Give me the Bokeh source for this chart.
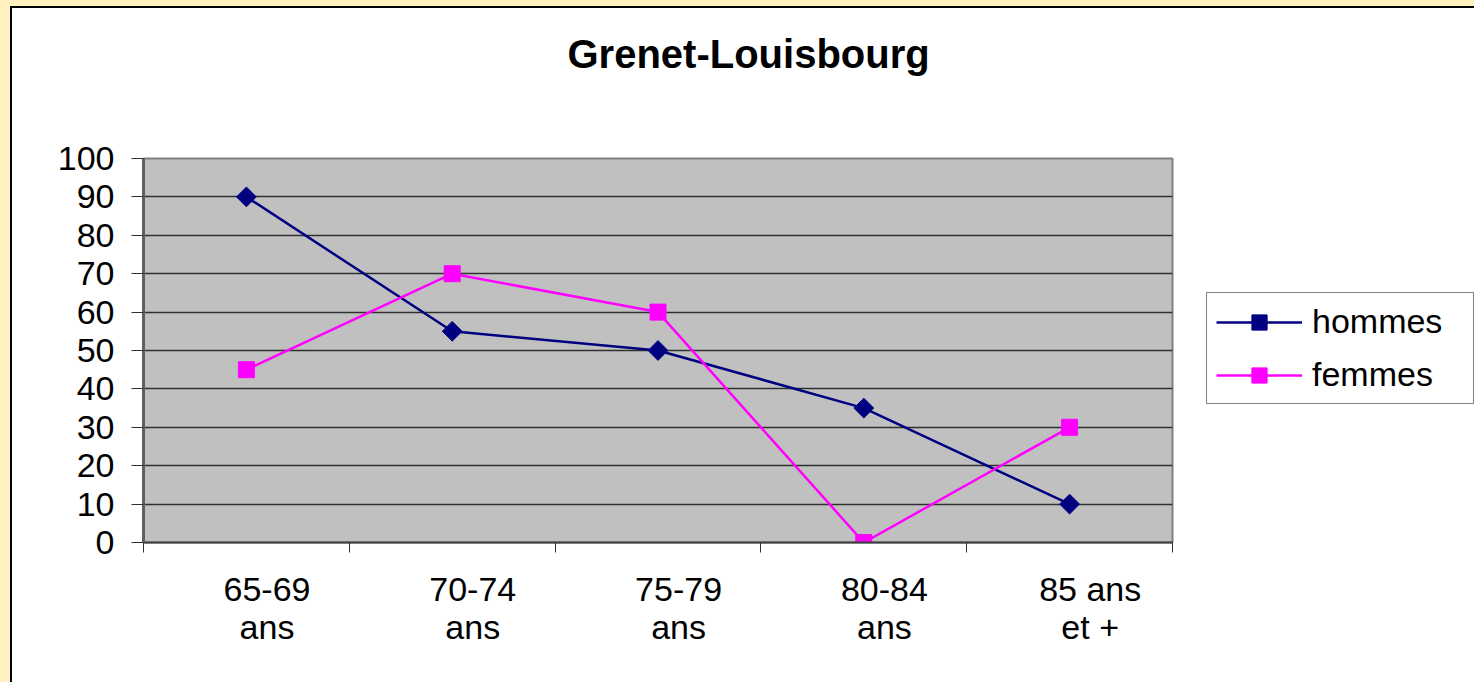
import numpy as np
from bokeh.plotting import figure
from bokeh.layouts import column
from bokeh.models import (Range1d, LinearAxis, FixedTicker, Legend, LegendItem, Title)
from bokeh.embed import file_html
from bokeh.resources import INLINE

# ---- data ----
categories = ["65-69\nans", "70-74\nans", "75-79\nans", "80-84\nans", "85 ans\net +"]
hommes = [90, 55, 50, 35, 10]
femmes = [45, 70, 60, 0, 30]
y_ticks = list(range(0, 101, 10))
chart_title = "Grenet-Louisbourg"

n = len(categories)
xs = [i + 0.5 for i in range(n)]

FONT = "Liberation Sans"
FS = "34px"

p = figure(width=1462, height=674, output_backend="svg", toolbar_location=None,
           x_range=Range1d(0, n), y_range=Range1d(0, 100),
           x_axis_location=None, y_axis_location=None,
           min_border_left=131, min_border_top=150, min_border_right=304,
           min_border_bottom=142, frame_width=1027, frame_height=382)

p.background_fill_color = "#C0C0C0"
p.border_fill_color = "white"
p.outline_line_color = "#808080"
p.outline_line_width = 2
p.styles = {"border-left": "2px solid black", "border-top": "2px solid black"}

# blank spacer title between the chart title and the plot area
spacer = Title(text=" ", text_font=FONT, text_font_size="10px", standoff=65)
p.add_layout(spacer, "above")

# chart title (outside the spacer)
title = Title(text=chart_title, text_font=FONT, text_font_size="40px",
              text_font_style="bold", text_color="black",
              align="left", offset=424, standoff=10)
p.add_layout(title, "above")

# y axis
yaxis = LinearAxis(ticker=FixedTicker(ticks=y_ticks))
yaxis.axis_line_color = "#606060"
yaxis.axis_line_width = 3
yaxis.major_tick_line_color = "#303030"
yaxis.major_tick_out = 12
yaxis.major_tick_in = 0
yaxis.minor_tick_line_color = None
yaxis.major_label_text_font = FONT
yaxis.major_label_text_font_size = FS
yaxis.major_label_text_color = "black"
yaxis.major_label_standoff = 17
p.add_layout(yaxis, "left")

# x axis: tick marks at category boundaries (no labels)
bounds = list(range(n + 1))
xaxis_ticks = LinearAxis(ticker=FixedTicker(ticks=bounds),
                         major_label_overrides={b: "" for b in bounds})
xaxis_ticks.axis_line_color = "#404040"
xaxis_ticks.axis_line_width = 2
xaxis_ticks.major_tick_line_color = "#303030"
xaxis_ticks.major_tick_out = 10
xaxis_ticks.major_tick_in = 0
xaxis_ticks.minor_tick_line_color = None
xaxis_ticks.major_label_text_font_size = "1px"
xaxis_ticks.major_label_standoff = 0
p.add_layout(xaxis_ticks, "below")

# x axis: category labels
label_pos = [x + 0.1 for x in xs]
xaxis_labels = LinearAxis(ticker=FixedTicker(ticks=label_pos),
                          major_label_overrides={lp: c for lp, c in zip(label_pos, categories)})
xaxis_labels.axis_line_color = None
xaxis_labels.major_tick_line_color = None
xaxis_labels.minor_tick_line_color = None
xaxis_labels.major_label_text_font = FONT
xaxis_labels.major_label_text_font_size = FS
xaxis_labels.major_label_text_color = "black"
xaxis_labels.major_label_text_line_height = 1.0
xaxis_labels.major_label_standoff = 11
p.add_layout(xaxis_labels, "below")

# grid
p.xgrid.visible = False
p.ygrid.grid_line_color = "#303030"
p.ygrid.grid_line_width = 1.5
p.ygrid.ticker = FixedTicker(ticks=y_ticks)

# series
lh = p.line(xs, hommes, line_color="#000080", line_width=2.5)
sh = p.scatter(xs, hommes, marker="square", angle=np.pi / 4, size=14,
               fill_color="#000080", line_color="#000080")
lf = p.line(xs, femmes, line_color="#FF00FF", line_width=2.5)
sf = p.scatter(xs, femmes, marker="square", size=16,
               fill_color="#FF00FF", line_color="#FF00FF")

legend = Legend(items=[LegendItem(label="hommes", renderers=[lh, sh]),
                       LegendItem(label="femmes", renderers=[lf, sf])],
                location=(34, 138))
legend.label_text_font = FONT
legend.label_text_font_size = FS
legend.label_text_color = "black"
legend.glyph_width = 86
legend.glyph_height = 38
legend.label_height = 38
legend.label_width = 152
legend.label_standoff = 10
legend.spacing = 14
legend.padding = 9
legend.margin = 0
legend.border_line_color = "black"
legend.border_line_width = 1.5
legend.background_fill_color = "white"
legend.background_fill_alpha = 1
p.add_layout(legend, "right")

layout = column(p, styles={"border-left": "10px solid #FFF2C0",
                           "border-top": "6px solid #FFF2C0",
                           "background-color": "white"})

html = file_html(layout, INLINE, title=chart_title)
open("out.html", "w").write(html)
